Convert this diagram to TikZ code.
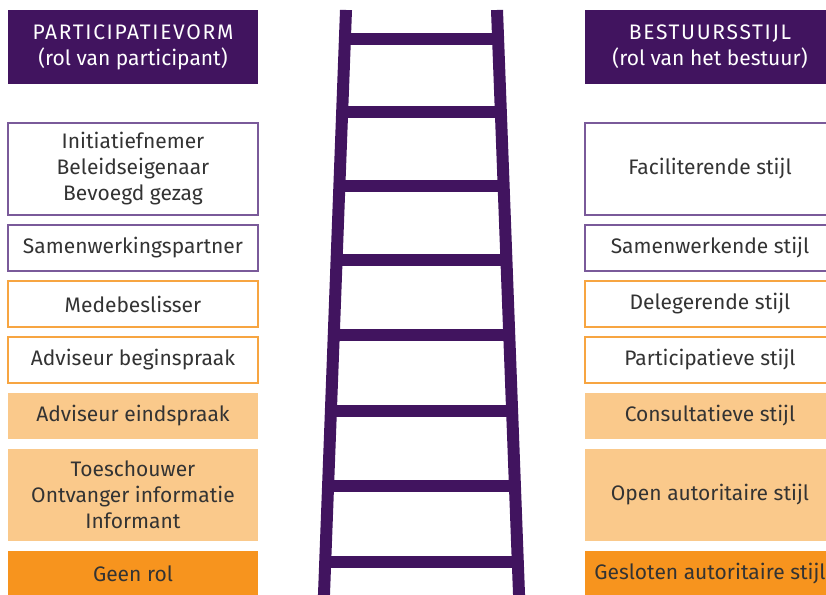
\documentclass[tikz,border=0pt]{standalone}
\usepackage{fontspec}
\setmainfont{Fira Sans}
\usetikzlibrary{calc}
\definecolor{ladderpurple}{HTML}{41145F}
\definecolor{framepurple}{HTML}{7A5A9A}
\definecolor{lightorange}{HTML}{FAC98B}
\definecolor{frameorange}{HTML}{F7A541}
\definecolor{deeporange}{HTML}{F7941E}
\definecolor{textgray}{HTML}{333333}
\newcommand{\wide}[1]{{\addfontfeatures{LetterSpace=8}#1}}

\begin{document}
\begin{tikzpicture}[x=1pt,y=-1pt]
  \tikzstyle{every node} = [text = textgray,
			    font = \fontsize{21}{26}\selectfont,
			    align = center,
			    inner sep = 0,
			    minimum width = 250pt,
			    minimum height = 46pt]
\tikzstyle{header} = [fill = ladderpurple, text = white, minimum height = 74pt]
\tikzstyle{purplebox} = [draw = framepurple, line width = 1.2pt, fill = white]
\tikzstyle{orangebox} = [draw = frameorange, line width = 1.2pt, fill = white]
\tikzstyle{lightbox} = [fill = lightorange]
\tikzstyle{deepbox} = [fill = deeporange]
\tikzstyle{tall} = [minimum height = 92pt]
\tikzstyle{rail} = [draw = ladderpurple, line width = 12pt]
\useasboundingbox (0,0) rectangle (826,594);

% participatievorm
\node[header] (PH) at (133,47) {\wide{PARTICIPATIEVORM}\\(rol van participant)};
\node[purplebox, tall] (P1) at (133,169) {Initiatiefnemer\\Beleidseigenaar\\Bevoegd gezag};
\node[purplebox] (P2) at (133,248) {Samenwerkingspartner};
\node[orangebox] (P3) at (133,304) {Medebeslisser};
\node[orangebox] (P4) at (133,360) {Adviseur beginspraak};
\node[lightbox] (P5) at (133,416) {Adviseur eindspraak};
\node[lightbox, tall] (P6) at (133,495) {Toeschouwer\\Ontvanger informatie\\Informant};
\node[deepbox] (P7) at (133,574) {Geen rol};

% bestuursstijl
\node[header] (BH) at (710,47) {\wide{BESTUURSSTIJL}\\(rol van het bestuur)};
\node[purplebox, tall] (B1) at (710,169) {Faciliterende stijl};
\node[purplebox] (B2) at (710,248) {Samenwerkende stijl};
\node[orangebox] (B3) at (710,304) {Delegerende stijl};
\node[orangebox] (B4) at (710,360) {Participatieve stijl};
\node[lightbox] (B5) at (710,416) {Consultatieve stijl};
\node[lightbox, tall] (B6) at (710,495) {Open autoritaire stijl};
\node[deepbox] (B7) at (710,574) {Gesloten autoritaire stijl};

% ladder
\coordinate (LT) at (346,10);
\coordinate (LB) at (324,594);
\coordinate (RT) at (497,10);
\coordinate (RB) at (519,594);
\draw[rail] (LT) -- ($(LT)!1.02!(LB)$);
\draw[rail] (RT) -- ($(RT)!1.02!(RB)$);
\foreach \y in {39,112,186,260,335,411,486,562}
  \draw[rail] ($(LT)!{(\y-10)/584}!(LB)$) -- ($(RT)!{(\y-10)/584}!(RB)$);

\end{tikzpicture}
\end{document}
